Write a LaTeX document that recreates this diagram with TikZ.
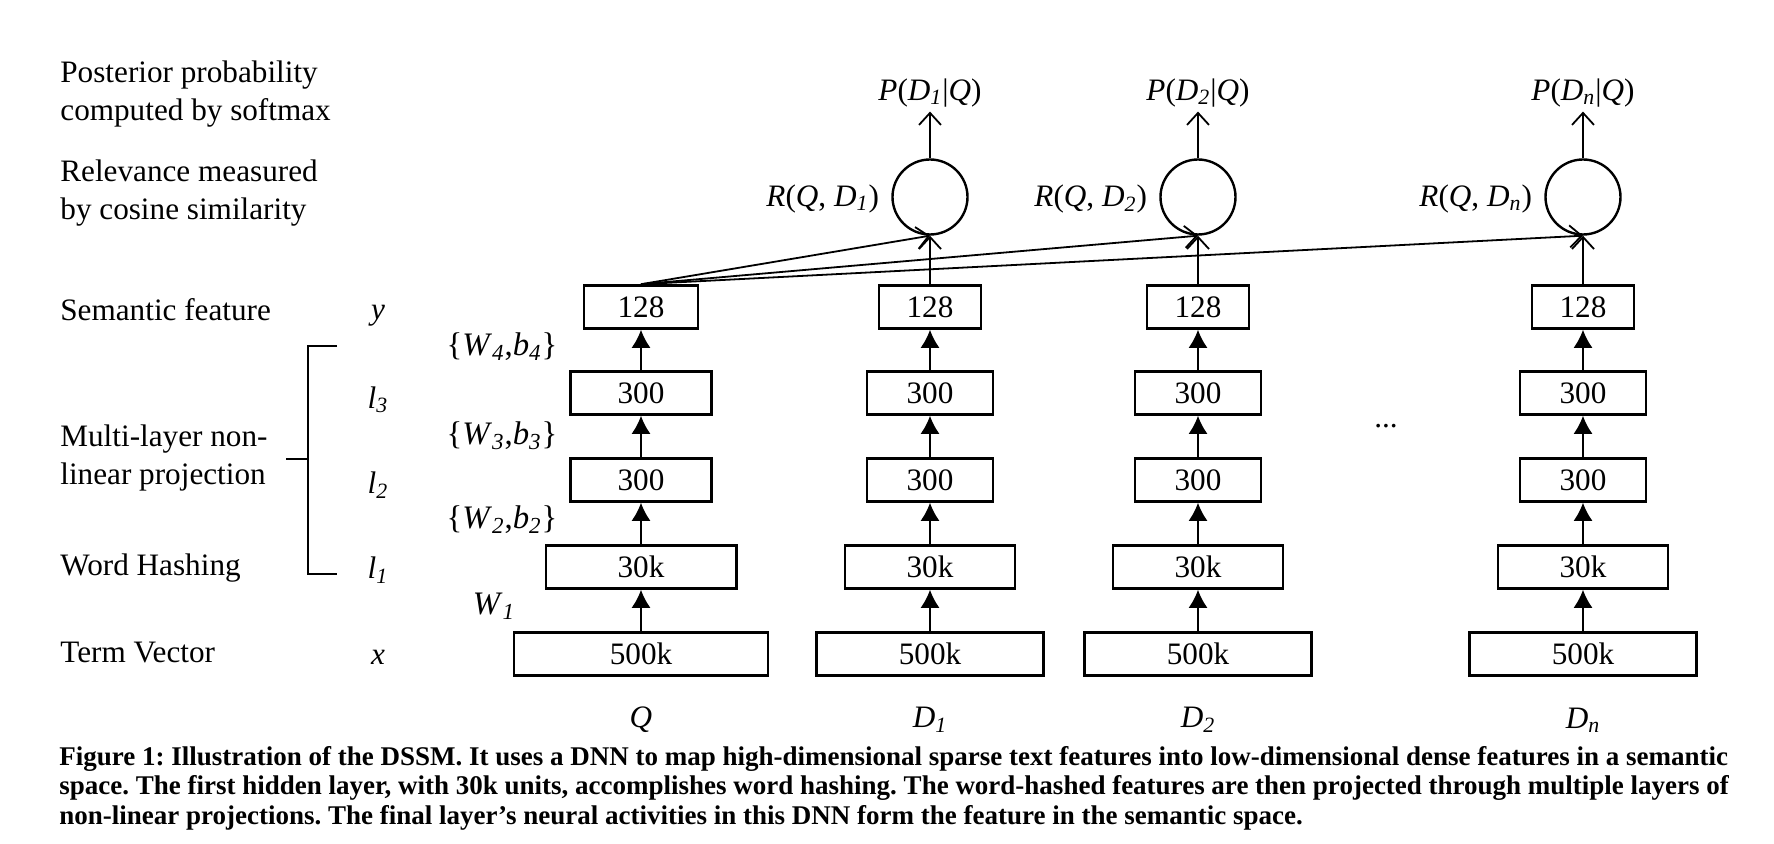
\documentclass[tikz,border=0pt]{standalone}
\usepackage{fontspec}
\setmainfont{Liberation Serif}
\usetikzlibrary{arrows.meta,positioning}

\newcommand\figsize{\fontsize{15.6}{18.8}\selectfont}
\newcommand\isub[1]{\textsubscript{\textit{#1}}}

\tikzset{
  layer/.style={draw,line width=1.3pt,minimum height=21.5pt,inner sep=0pt,font=\figsize},
  sim/.style={draw,circle,line width=1.2pt,minimum size=37.5pt,inner sep=0pt},
  lbl/.style={font=\figsize,inner sep=1pt},
  wgt/.style={font=\fontsize{16.4}{19}\selectfont,inner sep=1pt},
  fwd/.style={line width=0.9pt,-{Latex[length=9pt,width=9.5pt]}},
  rel/.style={line width=0.9pt,-{Straight Barb[length=6pt,width=11pt,line width=0.9pt]}},
}

\begin{document}
\begin{tikzpicture}[x=0.5pt,y=-0.5pt]
  \useasboundingbox (0,0) rectangle (1774,844);

  % left column of descriptions
  \node[lbl,anchor=west,align=left] (post) at (58,94) {Posterior probability\\computed by softmax};
  \node[lbl,anchor=west,align=left] (cos) at (58,193) {Relevance measured\\by cosine similarity};
  \node[lbl,anchor=west] (sem) at (58,310) {Semantic feature};
  \node[lbl,anchor=west,align=left] (proj) at (58,458) {Multi-layer non-\\linear projection};
  \node[lbl,anchor=west] (hash) at (58,568) {Word Hashing};
  \node[lbl,anchor=west] (term) at (58,653) {Term Vector};

  \node[lbl] (vy) at (378,316) {\textit{y}};
  \node[lbl] (vl3) at (378,400) {\textit{l}\isub{3}};
  \node[lbl] (vl2) at (378,485) {\textit{l}\isub{2}};
  \node[lbl] (vl1) at (378,570) {\textit{l}\isub{1}};
  \node[lbl] (vx) at (378,657) {\textit{x}};

  \draw[line width=1.2pt] (337,346) -- (308,346) -- (308,574) -- (337,574);
  \draw[line width=1.2pt] (286,459) -- (308,459);

  \node[wgt] (w4) at (502,347) {\{\textit{W}\isub{4},\textit{b}\isub{4}\}};
  \node[wgt] (w3) at (502,436) {\{\textit{W}\isub{3},\textit{b}\isub{3}\}};
  \node[wgt] (w2) at (502,520) {\{\textit{W}\isub{2},\textit{b}\isub{2}\}};
  \node[wgt] (w1) at (494,606) {\textit{W}\isub{1}};

  % the towers
  \foreach \col/\cx/\k/\s in {q/641/1.12/Q,da/930/1/D\isub{1},db/1198/1/D\isub{2},dn/1583/1/D\isub{n}} {
    \node[layer,minimum width=\k*113.5pt] (\col-x) at (\cx,654) {500k};
    \node[layer,minimum width=\k*85pt] (\col-l1) at (\cx,567) {30k};
    \node[layer,minimum width=\k*63pt] (\col-l2) at (\cx,480) {300};
    \node[layer,minimum width=\k*63pt] (\col-l3) at (\cx,393) {300};
    \node[layer,minimum width=\k*51pt] (\col-y) at (\cx,307) {128};
    \draw[fwd] (\col-x) -- (\col-l1);
    \draw[fwd] (\col-l1) -- (\col-l2);
    \draw[fwd] (\col-l2) -- (\col-l3);
    \draw[fwd] (\col-l3) -- (\col-y);
    \node[lbl] (\col-name) at (\cx,720) {\textit{\s}};
  }

  \node[lbl] (dots) at (1386,426) {...};

  % relevance and posterior
  \foreach \col/\cx/\s in {da/930/1,db/1198/2,dn/1583/n} {
    \node[sim] (\col-r) at (\cx,197) {};
    \node[lbl,left=5pt of \col-r,yshift=-1pt] (\col-rl) {\textit{R}(\textit{Q}, \textit{D}\isub{\s})};
    \node[lbl,inner sep=2pt] (\col-p) at (\cx,93) {\textit{P}(\textit{D}\isub{\s}|\textit{Q})};
    \draw[rel] (\col-y) -- (\col-r);
    \draw[rel] (q-y.north) -- (\col-r.south);
    \draw[rel] (\col-r) -- (\col-p);
  }

  % caption
  \node[anchor=base west,align=left,inner sep=0pt,
        font=\bfseries\frenchspacing\fontsize{13.5}{14.75}\selectfont] (cap) at (59,824)
    {Figure 1: Illustration of the DSSM. It uses a DNN to map high-dimensional sparse text features into low-dimensional dense features in a semantic\\
     space. The first hidden layer, with 30k units, accomplishes word hashing. The word-hashed features are then projected through multiple layers of\\
     non-linear projections. The final layer’s neural activities in this DNN form the feature in the semantic space.};
\end{tikzpicture}
\end{document}
